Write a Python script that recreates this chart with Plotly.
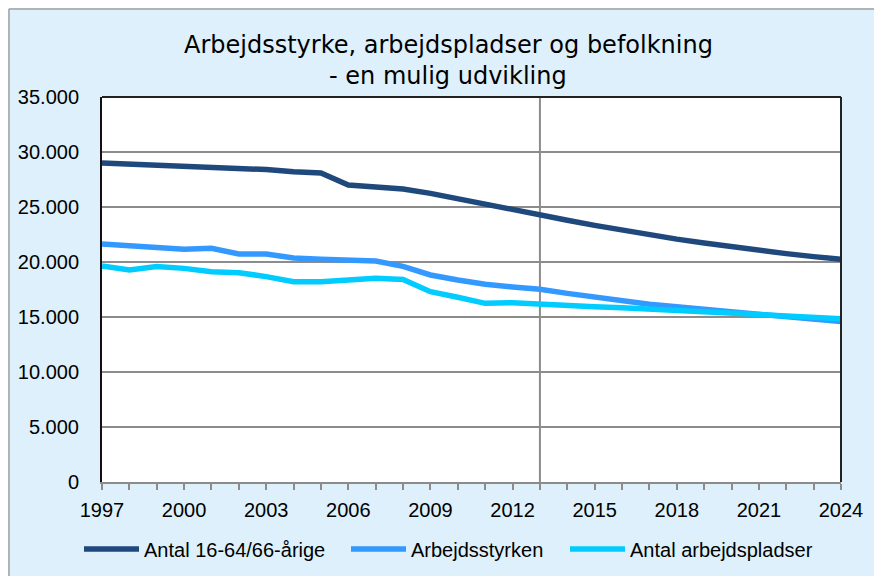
import plotly.graph_objects as go

years = list(range(1997, 2025))
antal_16_64 = [29000, 28900, 28790, 28700, 28550, 28550, 28400, 28200, 28100, 27000,
               26850, 26630, 26240, 25730, 25240, 24820, 24300, 23800, 23330, 22880,
               22450, 22080, 21720, 21380, 21050, 20760, 20490, 20250]
arbejdsstyrken = [21640, 21450, 21240, 21150, 21240, 20730, 20730, 20360, 20240, 20150,
                  20090, 19600, 18820, 18360, 17970, 17730, 17520, 17150, 16820, 16450,
                  16150, 15930, 15700, 15460, 15220, 15000, 14790, 14580]
arbejdspladser = [19640, 19270, 19580, 19420, 19120, 19030, 18670, 18210, 18210, 18360,
                  18520, 18420, 17300, 16790, 16240, 16300, 16150, 16030, 15940, 15850,
                  15730, 15580, 15450, 15330, 15200, 15080, 14960, 14850]
series_names = ["Antal 16-64/66-årige", "Arbejdsstyrken", "Antal arbejdspladser"]
series_colors = ["#1F497D", "#3399FF", "#00CCFF"]
y_ticks = list(range(0, 35001, 5000))
y_tick_text = ["0", "5.000", "10.000", "15.000", "20.000", "25.000", "30.000", "35.000"]
x_ticks = list(range(1997, 2025, 3))
title_lines = ["Arbejdsstyrke, arbejdspladser og befolkning", "- en mulig udvikling"]

# figure geometry (page adds 8px body margin)
W, H = 874, 568
ML, MR, MT, MB = 94, 41, 89, 94
pw, ph = W - ML - MR, H - MT - MB


def px(x):
    return (x - ML) / pw


def py(y):
    return (H - MB - y) / ph


legend_keys = ["legend", "legend2", "legend3"]
legend_x = [71, 338, 557]

fig = go.Figure()
for vals, name, col, lk in zip([antal_16_64, arbejdsstyrken, arbejdspladser],
                               series_names, series_colors, legend_keys):
    fig.add_trace(go.Scatter(x=years, y=vals, mode="lines", name=name, legend=lk,
                             line=dict(color=col, width=5.5)))

grid = "#8C8C8C"
shapes = [
    dict(type="line", xref="x", yref="y", x0=2013, x1=2013, y0=0, y1=35000,
         line=dict(color=grid, width=2), layer="below"),
    dict(type="line", xref="paper", yref="paper", x0=0, x1=1, y0=1, y1=1,
         line=dict(color="#222222", width=2)),
    dict(type="line", xref="paper", yref="paper", x0=1, x1=1, y0=0, y1=1,
         line=dict(color="#222222", width=2)),
    dict(type="line", xref="paper", yref="paper", x0=px(1), x1=px(W), y0=py(1), y1=py(1),
         line=dict(color="#A0A0A0", width=1.5)),
    dict(type="line", xref="paper", yref="paper", x0=px(1), x1=px(1), y0=py(1), y1=py(H),
         line=dict(color="#A0A0A0", width=1.5)),
]

annotations = [
    dict(text=t, xref="paper", yref="paper", x=px(440), y=py(yy), xanchor="center",
         yanchor="middle", showarrow=False,
         font=dict(family="DejaVu Sans, sans-serif", size=24, color="black"))
    for t, yy in zip(title_lines, [37, 68])
]

legend_style = dict(orientation="h", xanchor="left", xref="container", yref="container",
                    y=1 - 541 / H, yanchor="middle",
                    font=dict(size=20), itemwidth=55, bgcolor="rgba(0,0,0,0)")

layout_legends = {lk: dict(legend_style, x=lx / W) for lk, lx in zip(legend_keys, legend_x)}

fig.update_layout(
    width=W, height=H,
    margin=dict(l=ML, r=MR, t=MT, b=MB, autoexpand=False),
    paper_bgcolor="#DDF0FB",
    plot_bgcolor="white",
    font=dict(family="Liberation Sans, Arial, sans-serif", size=20, color="black"),
    shapes=shapes,
    annotations=annotations,
    showlegend=True,
    xaxis=dict(range=[1997, 2024], tickvals=x_ticks, showgrid=False, zeroline=False,
               showline=True, linecolor=grid, linewidth=2,
               ticks="outside", ticklen=6, tickcolor=grid, tickwidth=2,
               ticklabelstandoff=3,
               minor=dict(dtick=1, tick0=1997, ticks="outside", ticklen=6, tickcolor=grid,
                          tickwidth=2, showgrid=False),
               tickfont=dict(size=20)),
    yaxis=dict(range=[0, 35000], tickvals=y_ticks, ticktext=y_tick_text,
               showgrid=True, gridcolor=grid, gridwidth=1.5, zeroline=False,
               showline=True, linecolor="#111111", linewidth=2, ticks="",
               ticklabelstandoff=17, tickfont=dict(size=20)),
    **layout_legends,
)

fig.write_html("out.html")
